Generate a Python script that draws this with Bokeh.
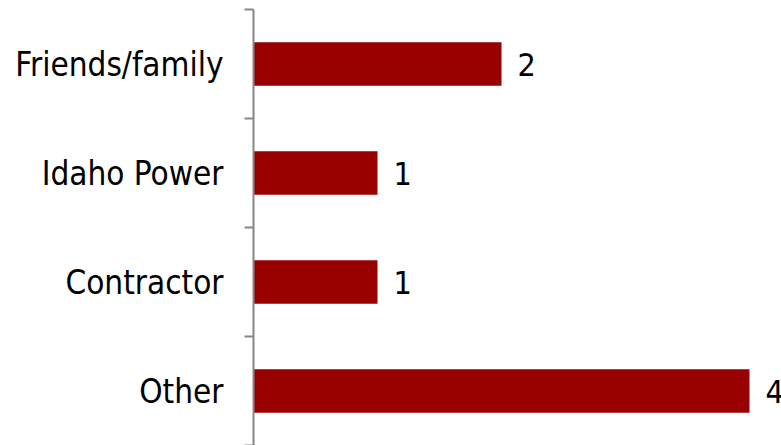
from bokeh.plotting import figure
from bokeh.models import Range1d, FixedTicker, ColumnDataSource, LabelSet
from bokeh.core.properties import value
from bokeh.embed import file_html
from bokeh.resources import INLINE

categories = ["Friends/family", "Idaho Power", "Contractor", "Other"]
counts = [2, 1, 1, 4]

FONT = "DejaVu Sans Condensed"

pos = [i + 0.5 for i in range(len(categories))]
src = ColumnDataSource(dict(y=pos, v=counts, lbl=[str(c) for c in counts]))

p = figure(width=781, height=445, output_backend="svg", toolbar_location=None,
           x_range=Range1d(0, 4.258), y_range=Range1d(len(categories), 0),
           min_border_left=253, min_border_right=0, min_border_top=9, min_border_bottom=0)
p.outline_line_color = None
p.grid.visible = False
p.xaxis.visible = False

p.hbar(y="y", right="v", left=0, height=0.4, source=src, fill_color="#990000", line_color=None)

labels = LabelSet(x="v", y="y", text="lbl", source=src, x_offset=16, text_baseline="middle",
                  text_font=value(FONT), text_font_size=value("32px"), text_color="#000000")
p.add_layout(labels)

ax = p.yaxis[0]
ax.ticker = FixedTicker(ticks=pos, minor_ticks=list(range(len(categories) + 1)))
ax.major_label_overrides = {v: c for v, c in zip(pos, categories)}
ax.major_tick_out = 0
ax.major_tick_in = 0
ax.minor_tick_out = 9
ax.minor_tick_in = 0
ax.minor_tick_line_color = "#878787"
ax.minor_tick_line_width = 2
ax.axis_line_color = "#878787"
ax.axis_line_width = 2
ax.major_label_standoff = 21
ax.major_label_text_font = FONT
ax.major_label_text_font_size = "33px"
ax.major_label_text_color = "#000000"

open("out.html", "w").write(file_html(p, INLINE))
